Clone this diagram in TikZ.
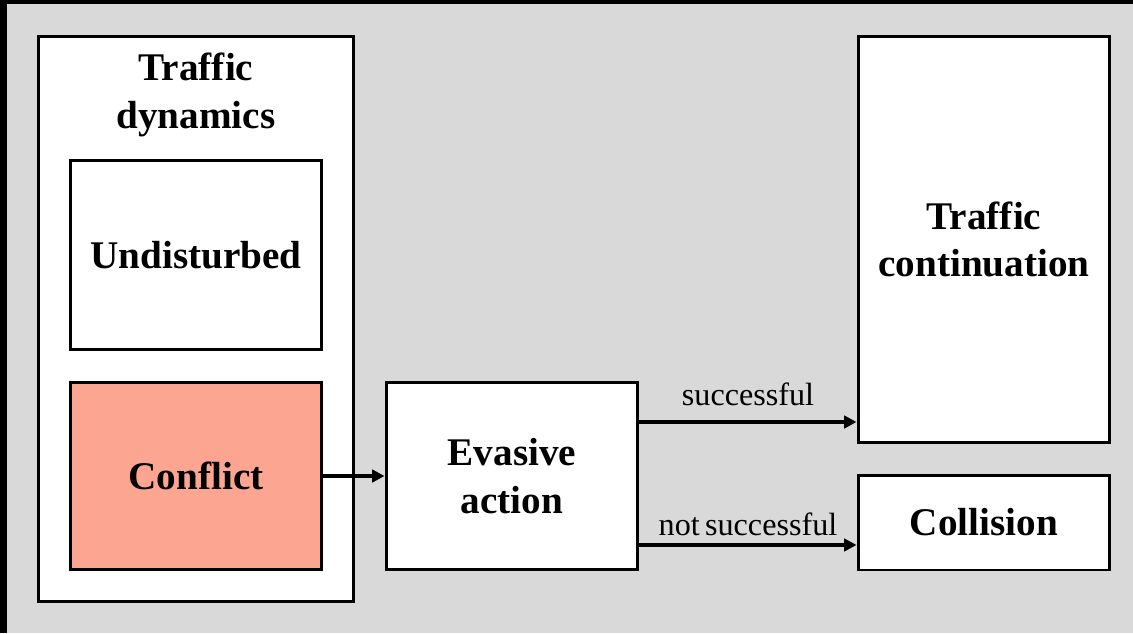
\documentclass[tikz,border=0pt]{standalone}
\usepackage{fontspec}
\setmainfont{Liberation Serif}
\usepackage{xcolor}
\definecolor{mgray}{HTML}{D9D9D9}
\definecolor{msalmon}{HTML}{FCA590}
\usetikzlibrary{arrows.meta}

\tikzset{
    box/.style={draw, line width=1.7pt, fill=white, align=center,
        font=\fontsize{22.3}{27}\selectfont\bfseries, inner sep=0pt},
    arr/.style={line width=2.3pt, -{Triangle[length=7pt, width=7pt]}},
    lbl/.style={font=\fontsize{18.3}{22}\selectfont, inner sep=2pt}
}

\begin{document}
\begin{tikzpicture}[x=0.02cm, y=-0.02cm]
        \fill[black] (0, 0) rectangle (1133, 633);
        \fill[mgray] (7, 4) rectangle (1133, 633);
        \useasboundingbox (0, 0) rectangle (1133, 633);

        \node[box, minimum width=6.32cm, minimum height=11.32cm] (dyn) at (196, 319) {};
        \node[font=\fontsize{22.3}{27}\selectfont\bfseries, align=center] (dyntitle) at (196, 95) {Traffic\\dynamics};
        \node[box, minimum width=5.04cm, minimum height=3.8cm] (undist) at (196, 255) {Undisturbed};
        \node[box, fill=msalmon, minimum width=5.04cm, minimum height=3.76cm] (conflict) at (196, 476) {Conflict};
        \node[box, minimum width=5.04cm, minimum height=3.76cm] (evasive) at (512, 476) {Evasive\\action};
        \node[box, minimum width=5.04cm, minimum height=8.14cm] (cont) at (984, 239.5) {Traffic\\continuation};
        \node[box, minimum width=5.04cm, minimum height=1.9cm] (coll) at (984, 522.5) {Collision};

        \draw[arr] (conflict) -- (evasive);
        \draw[arr] ([yshift=1.08cm]evasive.east) -- ([yshift=1.08cm]evasive.east -| cont.west)
            node[lbl, midway, above=6pt] (succ) {successful};
        \draw[arr] ([yshift=-1.38cm]evasive.east) -- ([yshift=-1.38cm]evasive.east -| coll.west)
            node[lbl, midway, above=2pt] (notsucc) {not\,successful};

    \end{tikzpicture}
\end{document}
